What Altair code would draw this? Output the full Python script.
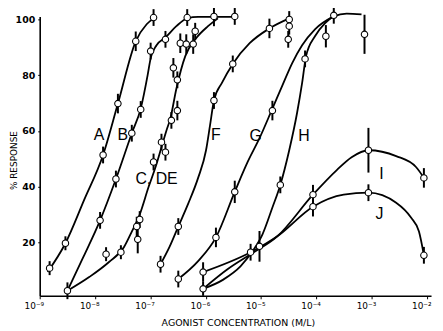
import altair as alt
import pandas as pd

# ---- fitted curves (log10 molar concentration, % response) ----
A_CX = [-8.857, -8.535, -8.195, -7.855, -7.587, -7.265, -7.068, -6.907]
A_CY = [9.5, 19.8, 35.4, 51.4, 69.8, 92.1, 98.2, 100.6]
B_CX = [-8.499, -8.213, -7.909, -7.623, -7.336, -7.175, -7.05, -6.996, -6.889, -6.728, -6.531, -6.335, -6.138, -5.476]
B_CY = [2.8, 14.8, 28.0, 42.8, 59.2, 68.0, 80.0, 86.0, 90.7, 93.5, 97.5, 100.3, 100.8, 100.8]
CDE_CX = [-8.499, -8.106, -7.748, -7.479, -7.336, -7.193, -7.032, -6.907, -6.800, -6.710, -6.639, -6.531, -6.370, -6.174, -5.959, -5.780]
CDE_CY = [2.8, 7.7, 13.1, 18.4, 24.0, 30.1, 40.0, 47.1, 54.2, 60.2, 64.5, 75.1, 86.8, 93.2, 97.5, 100.3]
F_CX = [-6.817, -6.657, -6.496, -6.317, -6.138, -5.995, -5.923, -5.852, -5.708, -5.512, -5.207, -4.850, -4.492]
F_CY = [12.3, 18.4, 25.8, 34.0, 43.2, 53.1, 62.0, 70.9, 77.2, 84.0, 91.4, 96.7, 100.3]
G_CX = [-6.496, -6.138, -5.816, -5.476, -5.243, -5.029, -4.796, -4.617, -4.438, -4.259, -4.027, -3.687]
G_CY = [7.0, 13.4, 21.9, 38.2, 48.9, 57.4, 68.0, 76.2, 84.3, 90.7, 96.4, 101.0]
H_CX = [-6.048, -5.691, -5.369, -5.154, -4.975, -4.796, -4.653, -4.492, -4.349, -4.259, -4.188, -4.027, -3.848, -3.687, -3.454, -3.186]
H_CY = [3.5, 6.7, 11.6, 17.0, 23.0, 32.6, 40.7, 53.1, 66.6, 77.2, 86.8, 93.9, 98.5, 101.0, 102.0, 101.7]
I_CX = [-6.048, -5.601, -5.190, -4.707, -4.063, -3.633, -3.365, -3.061, -2.560, -2.202, -2.059]
I_CY = [3.5, 10.6, 15.9, 22.3, 37.2, 46.0, 50.6, 53.1, 51.0, 47.1, 43.2]
J_CX = [-6.048, -5.190, -4.707, -4.063, -3.508, -3.061, -2.560, -2.292, -2.148, -2.059]
J_CY = [9.5, 16.6, 22.3, 32.9, 37.2, 37.9, 34.3, 29.0, 24.0, 15.5]

# ---- measured points (log10 conc, % response, error half-length) ----
A_PX = [-8.821, -8.535, -7.855, -7.587, -7.265, -6.943]
A_PY = [10.9, 19.8, 51.4, 69.8, 92.1, 100.6]
A_PE = [2.5, 2.5, 3.0, 3.5, 3.5, 3.0]
B_PX = [-8.499, -7.909, -7.623, -7.336, -7.175, -6.996, -6.728, -6.335, -5.852, -5.476]
B_PY = [2.8, 28.0, 42.8, 59.2, 67.7, 88.6, 92.8, 100.6, 101.0, 101.0]
B_PE = [3.0, 3.0, 3.0, 3.0, 3.0, 3.0, 3.0, 3.0, 3.5, 3.0]
CDE_PX = [-7.801, -7.533, -7.247, -7.229, -7.193, -6.943, -6.800, -6.728, -6.621, -6.585, -6.513, -6.513, -6.460, -6.352, -6.227, -6.191]
CDE_PY = [15.9, 16.6, 25.8, 21.2, 28.3, 48.9, 56.0, 52.4, 63.8, 82.6, 78.3, 67.3, 91.4, 91.1, 91.1, 95.7]
CDE_PE = [2.5, 2.5, 3.5, 5.0, 3.0, 3.0, 3.0, 3.0, 3.0, 3.5, 3.0, 3.5, 3.5, 3.5, 3.5, 3.0]
F_PX = [-6.817, -6.496, -5.852, -5.512, -4.850, -4.492, -4.492, -4.510]
F_PY = [12.3, 25.8, 70.9, 84.0, 96.7, 99.9, 97.5, 92.8]
F_PE = [3.0, 3.0, 3.0, 3.0, 3.5, 3.0, 3.0, 3.0]
G_PX = [-6.496, -5.816, -5.476, -4.796]
G_PY = [7.0, 21.9, 38.2, 67.3]
G_PE = [3.0, 3.5, 4.0, 3.5]
H_PX = [-6.048, -5.190, -5.029, -4.653, -4.206, -3.830, -3.687, -3.132]
H_PY = [3.5, 16.6, 18.7, 40.7, 85.8, 93.9, 101.4, 94.6]
H_PE = [2.5, 3.0, 5.5, 3.0, 3.0, 4.0, 3.0, 7.0]
I_PX = [-4.063, -3.061, -2.059]
I_PY = [37.2, 53.1, 43.2]
I_PE = [3.5, 8.0, 3.5]
J_PX = [-6.048, -4.063, -3.061, -2.059]
J_PY = [9.5, 32.9, 37.9, 15.5]
J_PE = [3.5, 3.5, 3.0, 3.0]

# ---- curve labels ----
LABELS = ["A", "B", "C, DE", "F", "G", "H", "I", "J"]
LABEL_X = [-7.927, -7.497, -6.889, -5.816, -5.100, -4.224, -2.828, -2.864]
LABEL_Y = [58.4, 58.4, 42.8, 58.4, 58.1, 58.1, 44.6, 30.4]

X_TICKS = [-9, -8, -7, -6, -5, -4, -3, -2]
Y_TICKS = [20, 40, 60, 80, 100]

curves = {"A": (A_CX, A_CY), "B": (B_CX, B_CY), "CDE": (CDE_CX, CDE_CY),
          "F": (F_CX, F_CY), "G": (G_CX, G_CY), "H": (H_CX, H_CY),
          "I": (I_CX, I_CY), "J": (J_CX, J_CY)}
pts = {"A": (A_PX, A_PY, A_PE), "B": (B_PX, B_PY, B_PE), "CDE": (CDE_PX, CDE_PY, CDE_PE),
       "F": (F_PX, F_PY, F_PE), "G": (G_PX, G_PY, G_PE), "H": (H_PX, H_PY, H_PE),
       "I": (I_PX, I_PY, I_PE), "J": (J_PX, J_PY, J_PE)}

rows = []
for s, (xs_, ys_) in curves.items():
    for i, (x, y) in enumerate(zip(xs_, ys_)):
        rows.append({"s": s, "i": i, "lx": x, "y": y})
curve_df = pd.DataFrame(rows)

prow = []
for s, (xs_, ys_, es_) in pts.items():
    for x, y, e in zip(xs_, ys_, es_):
        prow.append({"s": s, "lx": x, "y": y, "lo": y - e, "hi": y + e})
pt_df = pd.DataFrame(prow)

lab_df = pd.DataFrame({"t": LABELS, "lx": LABEL_X, "y": LABEL_Y})

xs = alt.Scale(domain=[-9, -1.93], nice=False, zero=False)
ys = alt.Scale(domain=[1, 101], nice=False, zero=False)

x_axis = alt.Axis(
    values=X_TICKS, grid=False, domainColor="black", domainWidth=1.6,
    tickColor="black", tickSize=3, labelFont="DejaVu Sans", labelFontSize=9,
    labelColor="black", labelAlign="right", labelOffset=4, labelPadding=3,
    labelExpr="'10' + ['\u207b\u2079','\u207b\u2078','\u207b\u2077','\u207b\u2076','\u207b\u2075','\u207b\u2074','\u207b\u00b3','\u207b\u00b2'][datum.value + 9]",
    title="AGONIST CONCENTRATION (M/L)", titleFont="DejaVu Sans", titleFontSize=9.5,
    titleFontWeight="normal", titleColor="black", titleX=200, titleY=27,
    titleBaseline="middle", titleAlign="center")
y_axis = alt.Axis(
    values=Y_TICKS, grid=False, domainColor="black", domainWidth=1.6,
    tickColor="black", tickSize=2, labelFont="DejaVu Sans", labelFontSize=9.5,
    labelColor="black", labelPadding=3, labelFontWeight="bold",
    title="% RESPONSE", titleFont="DejaVu Sans", titleFontSize=9,
    titleFontWeight="normal", titleColor="black", titleX=-26, titleY=145,
    titleAngle=270, titleBaseline="middle", titleAlign="center")

lines = alt.Chart(curve_df).mark_line(color="black", strokeWidth=1.8, interpolate="monotone").encode(
    x=alt.X("lx:Q", scale=xs, axis=x_axis),
    y=alt.Y("y:Q", scale=ys, axis=y_axis),
    detail="s:N", order="i:Q")

bars = alt.Chart(pt_df).mark_rule(color="black", strokeWidth=2).encode(
    x=alt.X("lx:Q", scale=xs), y=alt.Y("lo:Q", scale=ys), y2="hi:Q")

points = alt.Chart(pt_df).mark_point(shape="circle", filled=True, fill="white",
                                     stroke="black", strokeWidth=1.1, size=42, opacity=1).encode(
    x=alt.X("lx:Q", scale=xs), y=alt.Y("y:Q", scale=ys))

labels = alt.Chart(lab_df).mark_text(font="Liberation Sans", fontSize=16, color="black",
                                     align="center", baseline="middle").encode(
    x=alt.X("lx:Q", scale=xs), y=alt.Y("y:Q", scale=ys), text="t:N")

chart = alt.layer(lines, bars, points, labels).properties(
    width=395, height=282,
    autosize=alt.AutoSizeParams(type="none"),
    padding={"left": 32, "top": 7, "right": 4, "bottom": 30},
    background="white",
).configure_view(stroke=None)

chart.save("out.html", embed_options={"renderer": "svg", "actions": False})
